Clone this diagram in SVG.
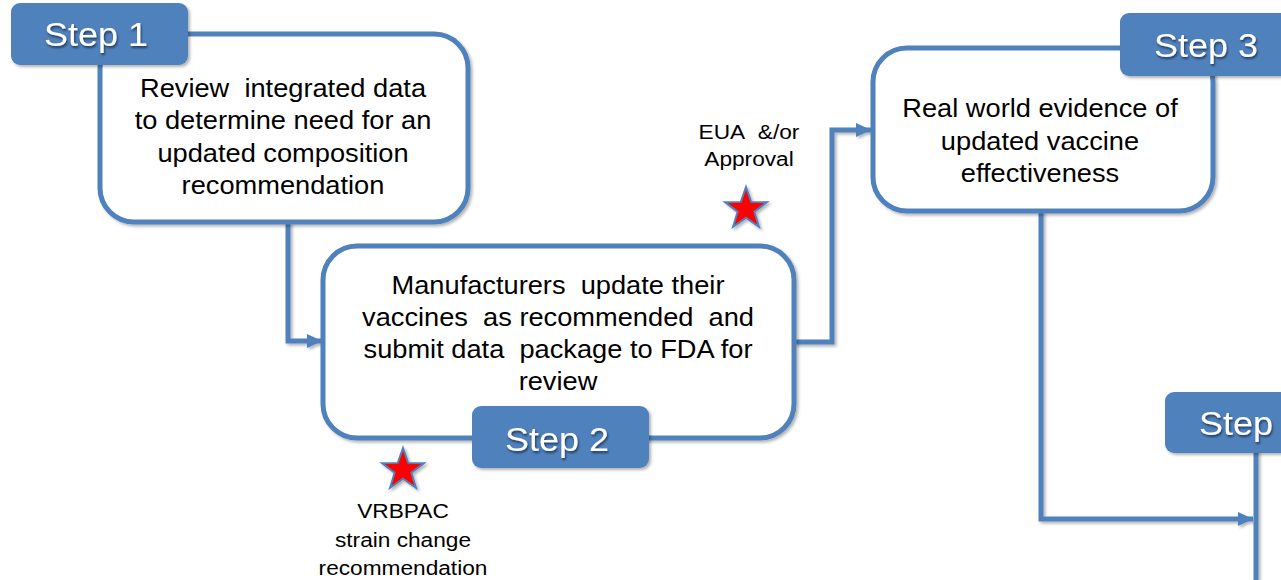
<svg xmlns="http://www.w3.org/2000/svg" width="1281" height="580" viewBox="0 0 1281 580">
  <defs>
    <style>
      .box { fill: #ffffff; stroke: #4F81BD; stroke-width: 5; }
      .label { fill: #4F81BD; }
      .conn { fill: none; stroke: #4F81BD; stroke-width: 5; }
      .body { font-family: "Liberation Sans", Arial, sans-serif; font-size: 25px; fill: #000000; text-anchor: middle; }
      .small { font-family: "Liberation Sans", Arial, sans-serif; font-size: 21px; fill: #000000; text-anchor: middle; }
      .step { font-family: "Liberation Sans", Arial, sans-serif; font-size: 34px; fill: #ffffff; text-anchor: middle; }
      .star { fill: #FF0000; stroke: #4F81BD; stroke-width: 2; }
    </style>
    <filter id="shadow" x="-10%" y="-10%" width="130%" height="130%">
      <feDropShadow dx="2" dy="2" stdDeviation="1.5" flood-color="#000000" flood-opacity="0.3"/>
    </filter>
    <filter id="tshadow" x="-10%" y="-10%" width="130%" height="140%">
      <feDropShadow dx="1" dy="2" stdDeviation="1" flood-color="#000000" flood-opacity="0.55"/>
    </filter>
    <marker id="arrow" markerUnits="userSpaceOnUse" markerWidth="16" markerHeight="16" viewBox="0 0 16 16" refX="15" refY="8" orient="auto">
      <path d="M0,1 L15,8 L0,15 Z" fill="#4F81BD"/>
    </marker>
    <polygon id="starShape" points="0,-22 5.17,-7.12 20.92,-6.8 8.37,2.72 12.93,17.8 0,8.8 -12.93,17.8 -8.37,2.72 -20.92,-6.8 -5.17,-7.12"/>
  </defs>

  <g id="connectors" filter="url(#shadow)">
    <path class="conn" d="M288,222 V341 H322" marker-end="url(#arrow)"/>
    <path class="conn" d="M794,342 H832 V130 H871" marker-end="url(#arrow)"/>
    <path class="conn" d="M1041,211 V519 H1253" marker-end="url(#arrow)"/>
    <path class="conn" d="M1256,450 V580"/>
  </g>

  <g id="step1-node">
    <rect class="box" x="100" y="34" width="368" height="188" rx="34" filter="url(#shadow)"/>
    <g transform="translate(283 0) scale(1.09 1)">
      <text class="body" x="0" y="97">Review&#160; integrated data</text>
      <text class="body" x="0" y="129">to determine need for an</text>
      <text class="body" x="0" y="162">updated composition</text>
      <text class="body" x="0" y="194">recommendation</text>
    </g>
  </g>

  <g id="step1-label">
    <rect class="label" x="11" y="3" width="177" height="62" rx="9" filter="url(#shadow)"/>
    <g transform="translate(96 0) scale(1.06 1)" filter="url(#tshadow)">
      <text class="step" x="0" y="46">Step 1</text>
    </g>
  </g>

  <g id="step2-node">
    <rect class="box" x="323" y="246" width="471" height="192" rx="34" filter="url(#shadow)"/>
    <g transform="translate(558 0) scale(1.09 1)">
      <text class="body" x="0" y="294">Manufacturers&#160; update their</text>
      <text class="body" x="0" y="326">vaccines&#160; as recommended&#160; and</text>
      <text class="body" x="0" y="358">submit data&#160; package to FDA for</text>
      <text class="body" x="0" y="390">review</text>
    </g>
  </g>

  <g id="step2-label">
    <rect class="label" x="472" y="406" width="177" height="62" rx="9" filter="url(#shadow)"/>
    <g transform="translate(557 0) scale(1.06 1)" filter="url(#tshadow)">
      <text class="step" x="0" y="451">Step 2</text>
    </g>
  </g>

  <g id="step3-node">
    <rect class="box" x="873" y="48" width="340" height="163" rx="34" filter="url(#shadow)"/>
    <g transform="translate(1040 0) scale(1.09 1)">
      <text class="body" x="0" y="117">Real world evidence of</text>
      <text class="body" x="0" y="150">updated vaccine</text>
      <text class="body" x="0" y="182">effectiveness</text>
    </g>
  </g>

  <g id="step3-label">
    <rect class="label" x="1120" y="13" width="180" height="63" rx="9" filter="url(#shadow)"/>
    <g transform="translate(1206 0) scale(1.06 1)" filter="url(#tshadow)">
      <text class="step" x="0" y="57">Step 3</text>
    </g>
  </g>

  <g id="step4-label">
    <rect class="label" x="1165" y="392" width="180" height="61" rx="9" filter="url(#shadow)"/>
    <g transform="translate(1199 0) scale(1.06 1)" filter="url(#tshadow)">
      <text class="step" x="0" y="435" style="text-anchor:start">Step</text>
    </g>
  </g>

  <g id="eua-approval">
    <use href="#starShape" class="star" transform="translate(746 209)" filter="url(#shadow)"/>
    <g transform="translate(749 0) scale(1.08 1)">
      <text class="small" x="0" y="139">EUA&#160; &amp;/or</text>
      <text class="small" x="0" y="166">Approval</text>
    </g>
  </g>

  <g id="vrbpac">
    <use href="#starShape" class="star" transform="translate(403 470)" filter="url(#shadow)"/>
    <g transform="translate(403 0) scale(1.08 1)">
      <text class="small" x="0" y="518">VRBPAC</text>
      <text class="small" x="0" y="547">strain change</text>
      <text class="small" x="0" y="575">recommendation</text>
    </g>
  </g>
</svg>
